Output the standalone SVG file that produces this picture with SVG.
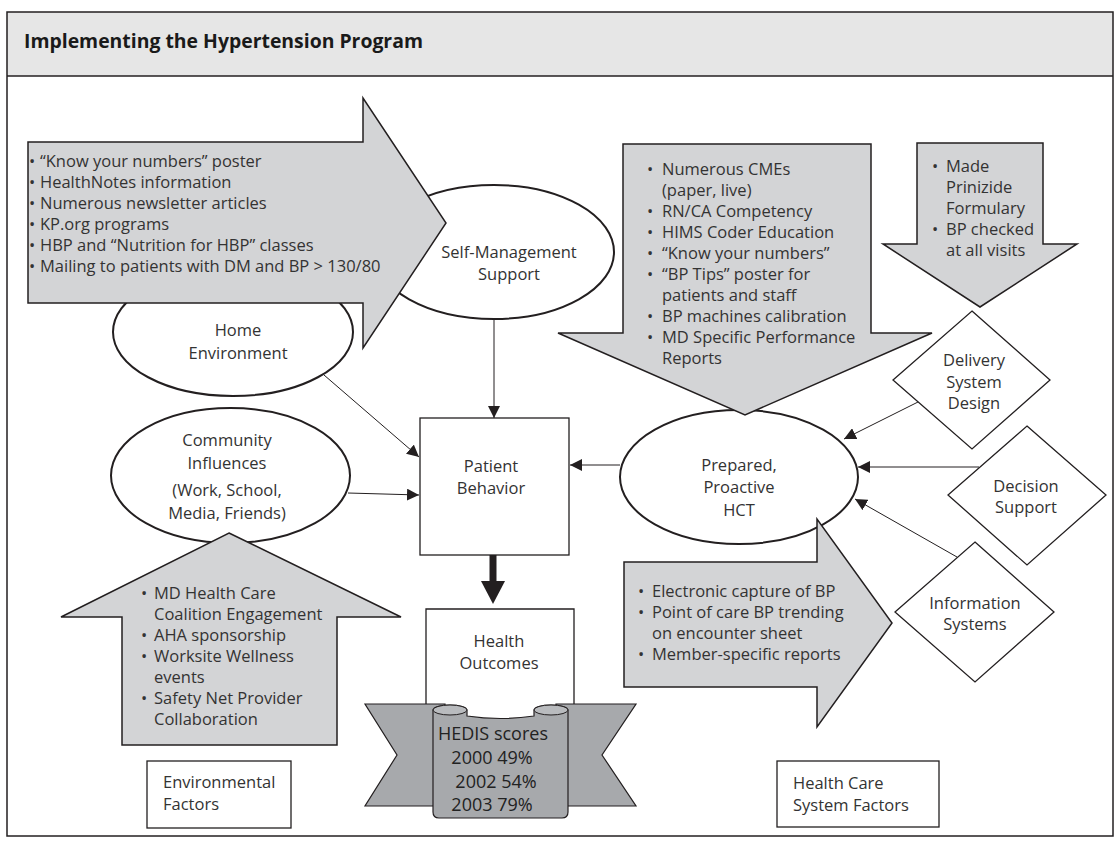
<svg xmlns="http://www.w3.org/2000/svg" width="1120" height="850" viewBox="0 0 1120 850">
<defs>
<style>
.t{font-family:"Open Sans","Liberation Sans",sans-serif;font-size:16.5px;fill:#333}
.c{text-anchor:middle}
.title{font-family:"Open Sans","Liberation Sans",sans-serif;font-size:19.4px;font-weight:bold;fill:#1a1a1a}
.ga{fill:#d3d4d6;stroke:#231f20;stroke-width:1.5;stroke-linejoin:miter}
.box{fill:#fff;stroke:#231f20;stroke-width:1.3}
.ell{fill:#fff;stroke:#231f20;stroke-width:2}
.dia{fill:#fff;stroke:#231f20;stroke-width:1.3}
.conn{stroke:#231f20;stroke-width:1;fill:none;marker-end:url(#ah)}
.rib{fill:#a7a9ac;stroke:#231f20;stroke-width:1.2}
.hed{font-family:"Open Sans","Liberation Sans",sans-serif;font-size:18px;fill:#222}
</style>
<marker id="ah" viewBox="0 0 12 12" refX="12" refY="6" markerWidth="12" markerHeight="12" markerUnits="userSpaceOnUse" orient="auto">
<path d="M0,0 L12,6 L0,12 Z" fill="#231f20"/>
</marker>
</defs>
<rect x="0" y="0" width="1120" height="850" fill="#fff"/>
<g id="frame">
<rect x="7" y="12" width="1106" height="64" fill="#e6e6e6"/>
<rect x="7" y="12" width="1106" height="824" fill="none" stroke="#231f20" stroke-width="1.5"/>
<line x1="7" y1="76" x2="1113" y2="76" stroke="#231f20" stroke-width="1.5"/>
<text class="title" x="24" y="48">Implementing the Hypertension Program</text>
</g>
<g id="home-environment">
<ellipse class="ell" cx="233" cy="332" rx="120" ry="64"/>
<text class="t c" x="238" y="336">Home</text>
<text class="t c" x="238" y="359">Environment</text>
</g>
<g id="self-management">
<ellipse class="ell" cx="494" cy="252" rx="120" ry="67"/>
<text class="t c" x="509" y="258">Self-Management</text>
<text class="t c" x="509" y="280">Support</text>
</g>
<g id="community-influences">
<ellipse class="ell" cx="230.5" cy="475.5" rx="119.5" ry="67.5"/>
<text class="t c" x="227" y="446">Community</text>
<text class="t c" x="227" y="469">Influences</text>
<text class="t c" x="227" y="496">(Work, School,</text>
<text class="t c" x="227" y="519">Media, Friends)</text>
</g>
<g id="patient-behavior">
<rect class="box" x="420" y="418" width="149" height="137"/>
<text class="t c" x="491" y="472">Patient</text>
<text class="t c" x="491" y="494">Behavior</text>
</g>
<g id="health-outcomes">
<path class="box" d="M426,704 V609 H574 V704"/>
<text class="t c" x="499" y="647">Health</text>
<text class="t c" x="499" y="669">Outcomes</text>
</g>
<g id="connectors">
<line class="conn" x1="324" y1="375" x2="419" y2="457"/>
<line class="conn" x1="348" y1="493" x2="419" y2="495"/>
<line class="conn" x1="494" y1="319" x2="494" y2="418"/>
<line class="conn" x1="620" y1="465" x2="570" y2="465"/>
<line class="conn" x1="918" y1="402" x2="844" y2="439"/>
<line class="conn" x1="979" y1="467" x2="858" y2="467"/>
<line class="conn" x1="957" y1="557" x2="855" y2="499"/>
<line x1="493" y1="555" x2="493" y2="583" stroke="#231f20" stroke-width="7"/>
<path d="M481,581 L505,581 L493,604 Z" fill="#231f20"/>
</g>
<g id="arrow-self-management">
<path class="ga" d="M28,142 L363,142 L363,98 L446,223 L363,348 L363,303 L28,303 Z"/>
<text class="t" x="29" y="167">•<tspan x="40">“Know your numbers” poster</tspan></text>
<text class="t" x="29" y="188">•<tspan x="40">HealthNotes information</tspan></text>
<text class="t" x="29" y="209">•<tspan x="40">Numerous newsletter articles</tspan></text>
<text class="t" x="29" y="230">•<tspan x="40">KP.org programs</tspan></text>
<text class="t" x="29" y="251">•<tspan x="40">HBP and “Nutrition for HBP” classes</tspan></text>
<text class="t" x="29" y="272">•<tspan x="40">Mailing to patients with DM and BP &gt; 130/80</tspan></text>
</g>
<g id="hct">
<ellipse class="ell" cx="739" cy="477" rx="119" ry="67"/>
<text class="t c" x="739" y="471">Prepared,</text>
<text class="t c" x="739" y="493">Proactive</text>
<text class="t c" x="739" y="516">HCT</text>
</g>
<g id="arrow-education">
<path class="ga" d="M623,144 L871,144 L871,333 L932,333 L745,415 L558,333 L623,333 Z"/>
<text class="t" x="647" y="175">•<tspan x="662">Numerous  CMEs</tspan></text>
<text class="t" x="662" y="196">(paper, live)</text>
<text class="t" x="647" y="217">•<tspan x="662">RN/CA Competency</tspan></text>
<text class="t" x="647" y="238">•<tspan x="662">HIMS Coder Education</tspan></text>
<text class="t" x="647" y="259">•<tspan x="662">“Know your numbers”</tspan></text>
<text class="t" x="647" y="280">•<tspan x="662">“BP Tips” poster for</tspan></text>
<text class="t" x="662" y="301">patients and staff</text>
<text class="t" x="647" y="322">•<tspan x="662">BP machines calibration</tspan></text>
<text class="t" x="647" y="343">•<tspan x="662">MD Specific Performance</tspan></text>
<text class="t" x="662" y="364">Reports</text>
</g>
<g id="arrow-formulary">
<path class="ga" d="M917,143 L1043,143 L1043,244 L1077,244 L980,307 L883,244 L917,244 Z"/>
<text class="t" x="932" y="172">•<tspan x="946">Made</tspan></text>
<text class="t" x="946" y="193">Prinizide</text>
<text class="t" x="946" y="214">Formulary</text>
<text class="t" x="932" y="235">•<tspan x="946">BP checked</tspan></text>
<text class="t" x="946" y="256">at all visits</text>
</g>
<g id="arrow-community">
<path class="ga" d="M229,533 L401,617 L337,617 L337,745 L122,745 L122,617 L61,617 Z"/>
<text class="t" x="141" y="599">•<tspan x="154">MD Health Care</tspan></text>
<text class="t" x="154" y="620">Coalition Engagement</text>
<text class="t" x="141" y="641">•<tspan x="154">AHA sponsorship</tspan></text>
<text class="t" x="141" y="662">•<tspan x="154">Worksite Wellness</tspan></text>
<text class="t" x="154" y="683">events</text>
<text class="t" x="141" y="704">•<tspan x="154">Safety Net Provider</tspan></text>
<text class="t" x="154" y="725">Collaboration</text>
</g>
<g id="arrow-information">
<path class="ga" d="M624,562 L817,562 L817,519 L892,623 L817,727 L817,687 L624,687 Z"/>
<text class="t" x="638" y="597">•<tspan x="652">Electronic capture of BP</tspan></text>
<text class="t" x="638" y="618">•<tspan x="652">Point of care BP trending</tspan></text>
<text class="t" x="652" y="639">on encounter sheet</text>
<text class="t" x="638" y="660">•<tspan x="652">Member-specific reports</tspan></text>
</g>
<g id="hedis-banner">
<path class="rib" d="M365,704 L445,704 L445,806 L365,806 L397,755 Z"/>
<path class="rib" d="M636,704 L556,704 L556,806 L636,806 L602,755 Z"/>
<path class="rib" d="M433,710 L433,812 Q433,818 439,818 L562,818 Q568,818 568,812 L568,710 A17,5 0 0 0 534,710 L534,716 Q500,721 467,716 L467,710 A17,5 0 0 0 433,710 Z"/>
<ellipse cx="450" cy="710" rx="17" ry="5" fill="#b9bbbe" stroke="#231f20" stroke-width="1"/>
<ellipse cx="551" cy="710" rx="17" ry="5" fill="#b9bbbe" stroke="#231f20" stroke-width="1"/>
<text class="hed c" x="493" y="740">HEDIS scores</text>
<text class="hed c" x="492" y="764">2000 49%</text>
<text class="hed c" x="496" y="788">2002 54%</text>
<text class="hed c" x="492" y="811">2003 79%</text>
</g>
<g id="delivery-system-design">
<path class="dia" d="M972,311 L1050,380 L972,449 L893,380 Z"/>
<text class="t c" x="974" y="366">Delivery</text>
<text class="t c" x="974" y="388">System</text>
<text class="t c" x="974" y="409">Design</text>
</g>
<g id="decision-support">
<path class="dia" d="M1027,426 L1106,495 L1027,565 L948,495 Z"/>
<text class="t c" x="1026" y="492">Decision</text>
<text class="t c" x="1026" y="513">Support</text>
</g>
<g id="information-systems">
<path class="dia" d="M975,542 L1054,612 L975,682 L895,612 Z"/>
<text class="t c" x="975" y="609">Information</text>
<text class="t c" x="975" y="630">Systems</text>
</g>
<g id="environmental-factors">
<rect class="box" x="147" y="761" width="144" height="67"/>
<text class="t" x="163" y="788">Environmental</text>
<text class="t" x="163" y="810">Factors</text>
</g>
<g id="health-care-system-factors">
<rect class="box" x="777" y="761" width="162" height="66"/>
<text class="t" x="793" y="789">Health Care</text>
<text class="t" x="793" y="811">System Factors</text>
</g>
</svg>
